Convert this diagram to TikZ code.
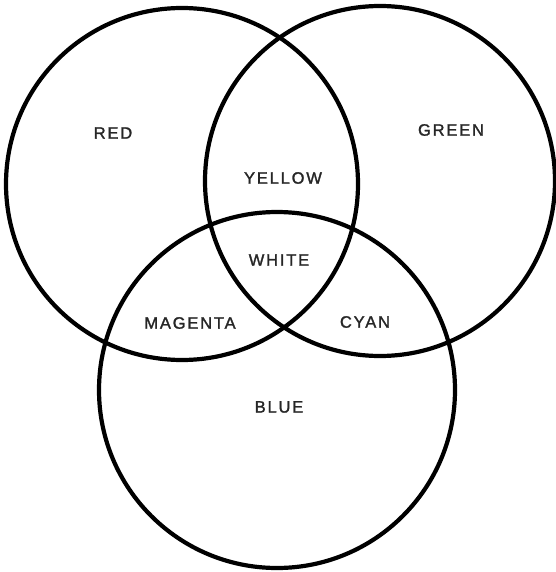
\documentclass[tikz,border=0pt]{standalone}
\usepackage{fontspec}
\setmainfont{Liberation Sans}[LetterSpace=11, FakeBold=1.6]
\usepackage{tikz}
\usetikzlibrary{positioning}

\tikzset{
  ring/.style={draw, circle, line width=4.2pt, minimum size=#1},
  hue/.style={font=\fontsize{16.5}{18}\selectfont, text=black!85},
}

\begin{document}
\begin{tikzpicture}[x=1pt, y=-1pt]
  \useasboundingbox (0,0) rectangle (555,572);
  % the three light circles
  \node [ring=352pt] (red)   at (182,184) {};
  \node [ring=350pt] (green) at (380,181) {};
  \node [ring=356pt] (blue)  at (277,390) {};

  % single and mixed colours
  \node [hue] (r) at (113,133) {RED};
  \node [hue] (g) at (451,130) {GREEN};
  \node [hue] (b) at (279,407) {BLUE};
  \node [hue] (y) at (283,178) {YELLOW};
  \node [hue] (w) at (279,260) {WHITE};
  \node [hue] (m) at (190,323) {MAGENTA};
  \node [hue] (c) at (365,322) {CYAN};
\end{tikzpicture}
\end{document}
